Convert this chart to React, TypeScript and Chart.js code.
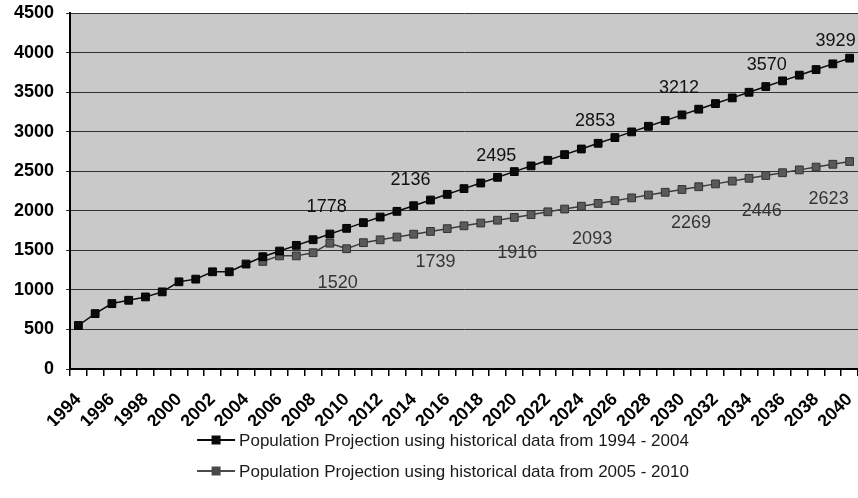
import React, { useEffect, useRef } from "react";
import { Chart, registerables } from "chart.js";

Chart.register(...registerables);

// ---------- data ----------
const years = [
  "1994", "1995", "1996", "1997", "1998", "1999", "2000", "2001", "2002", "2003",
  "2004", "2005", "2006", "2007", "2008", "2009", "2010", "2011", "2012", "2013",
  "2014", "2015", "2016", "2017", "2018", "2019", "2020", "2021", "2022", "2023",
  "2024", "2025", "2026", "2027", "2028", "2029", "2030", "2031", "2032", "2033",
  "2034", "2035", "2036", "2037", "2038", "2039", "2040",
];

const projection1994to2004 = [
  550, 700, 827, 869, 911, 975, 1102, 1136, 1229, 1229,
  1327, 1419, 1491, 1563, 1634, 1706, 1778, 1850, 1921, 1993,
  2064, 2136, 2208, 2280, 2351, 2423, 2495, 2567, 2638, 2710,
  2781, 2853, 2925, 2997, 3068, 3140, 3212, 3284, 3355, 3427,
  3498, 3570, 3642, 3714, 3785, 3857, 3929,
];

const projection2005to2010 = [
  null, null, null, null, null, null, null, null, null, null,
  null, 1360, 1430, 1430, 1470, 1590, 1520, 1597, 1633, 1668,
  1704, 1739, 1774, 1810, 1845, 1881, 1916, 1951, 1987, 2022,
  2058, 2093, 2128, 2163, 2199, 2234, 2269, 2304, 2340, 2375,
  2411, 2446, 2481, 2517, 2552, 2588, 2623,
];

const labelledYears = ["2010", "2015", "2020", "2025", "2030", "2035", "2040"];

const seriesNames = [
  "Population Projection using historical data from 1994 - 2004",
  "Population Projection using historical data from 2005 - 2010",
];

const yTicks = [0, 500, 1000, 1500, 2000, 2500, 3000, 3500, 4000, 4500];

// ---------- styling ----------
const FONT = "'Liberation Sans', Arial, Helvetica, sans-serif";
const COLORS = ["#0a0a0a", "#4a4a4a"];
const LABEL_COLORS = ["#111111", "#353535"];
// label offsets (pixels) relative to each labelled point, per series
const LABEL_OFFSETS = [
  [[-20, -21], [-20, -20], [-18, -16], [-3, -22], [-3, -27], [1, -22], [-14, -17]],
  [[-9, 34], [5, 31], [3, 36], [-6, 36], [9, 34], [-4, 36], [-21, 38]],
];

export default function App() {
  const ref = useRef<HTMLCanvasElement>(null);

  useEffect(() => {
    const canvas = ref.current;
    if (!canvas) return;

    const plotBg = {
      id: "plotBg",
      beforeDraw(chart: any) {
        const { ctx, chartArea: a } = chart;
        ctx.save();
        ctx.fillStyle = "#c9c9c9";
        ctx.fillRect(a.left, a.top, a.right - a.left, a.bottom - a.top);
        ctx.restore();
      },
    };

    const valueLabels = {
      id: "valueLabels",
      afterDatasetsDraw(chart: any) {
        const { ctx } = chart;
        ctx.save();
        ctx.font = `18px ${FONT}`;
        ctx.textAlign = "center";
        ctx.textBaseline = "middle";
        chart.data.datasets.forEach((ds: any, di: number) => {
          const meta = chart.getDatasetMeta(di);
          ctx.fillStyle = LABEL_COLORS[di];
          labelledYears.forEach((yr, li) => {
            const idx = years.indexOf(yr);
            const v = ds.data[idx];
            const el = meta.data[idx];
            if (v == null || !el) return;
            const [dx, dy] = LABEL_OFFSETS[di][li];
            const text = String(v);
            const w = ctx.measureText(text).width;
            let x = el.x + dx;
            if (x + w / 2 > chart.width - 1) x = chart.width - 1 - w / 2;
            ctx.fillText(text, x, el.y + dy);
          });
        });
        ctx.restore();
      },
    };

    const customLegend = {
      id: "customLegend",
      afterDraw(chart: any) {
        const { ctx } = chart;
        ctx.save();
        ctx.font = `17px ${FONT}`;
        ctx.textBaseline = "middle";
        ctx.textAlign = "left";
        const rowsY = [440, 471];
        seriesNames.forEach((name, i) => {
          const tw = ctx.measureText(name).width;
          const symW = 38;
          const total = symW + 4 + tw;
          const x0 = chart.width / 2 - total / 2 + 14;
          const y = rowsY[i];
          ctx.strokeStyle = COLORS[i];
          ctx.lineWidth = 2;
          ctx.beginPath();
          ctx.moveTo(x0, y);
          ctx.lineTo(x0 + symW, y);
          ctx.stroke();
          ctx.fillStyle = COLORS[i];
          ctx.fillRect(x0 + symW / 2 - 4.5, y - 4.5, 9, 9);
          ctx.fillStyle = "#1a1a1a";
          ctx.fillText(name, x0 + symW + 4, y + 1);
        });
        ctx.restore();
      },
    };

    const chart = new Chart(canvas, {
      type: "line",
      data: {
        labels: years,
        datasets: [
          {
            label: seriesNames[0],
            data: projection1994to2004,
            borderColor: COLORS[0],
            backgroundColor: COLORS[0],
            borderWidth: 1.5,
            pointStyle: "rect",
            pointRadius: 5.5,
            pointBorderWidth: 1,
            pointBorderColor: "#000",
            pointBackgroundColor: COLORS[0],
            tension: 0,
          },
          {
            label: seriesNames[1],
            data: projection2005to2010,
            borderColor: "#3c3c3c",
            backgroundColor: COLORS[1],
            borderWidth: 1.5,
            pointStyle: "rect",
            pointRadius: 5.5,
            pointBorderWidth: 1,
            pointBorderColor: "#333",
            pointBackgroundColor: "#5a5a5a",
            tension: 0,
          },
        ],
      },
      options: {
        responsive: false,
        maintainAspectRatio: false,
        animation: false,
        layout: { autoPadding: false, padding: { top: 13, right: 0, left: 0, bottom: 72 } },
        plugins: {
          legend: { display: false },
          tooltip: { enabled: false },
          title: { display: false },
        },
        scales: {
          x: {
            offset: true,
            grid: {
              offset: true,
              drawOnChartArea: false,
              drawTicks: true,
              tickLength: 7,
              color: "#000",
              lineWidth: 1.5,
            },
            border: { color: "#000", width: 2 },
            ticks: {
              autoSkip: false,
              minRotation: 45,
              maxRotation: 45,
              color: "#000",
              padding: 13,
              font: { family: FONT, size: 18, weight: "bold" },
              callback: (_v: any, i: number) => (i % 2 === 0 ? years[i] : ""),
            },
            afterFit: (s: any) => {
              s.height = 57;
              s.paddingLeft = 0;
              s.paddingRight = 0;
            },
          },
          y: {
            min: yTicks[0],
            max: yTicks[yTicks.length - 1],
            afterBuildTicks: (s: any) => {
              s.ticks = yTicks.map((v) => ({ value: v }));
            },
            ticks: {
              color: "#000",
              padding: 12,
              font: { family: FONT, size: 18, weight: "bold" },
              callback: (v: any) => String(v),
            },
            grid: { color: "#333", lineWidth: 1, tickLength: 4 },
            border: { color: "#000", width: 2 },
            afterFit: (s: any) => {
              s.width = 70;
              s.paddingTop = 0;
              s.paddingBottom = 0;
            },
          },
        },
      },
      plugins: [plotBg, valueLabels, customLegend],
    } as any);

    return () => chart.destroy();
  }, []);

  return (
    <div style={{ position: "fixed", left: 0, top: 0, width: 858, height: 498, background: "#fff" }}>
      <canvas ref={ref} width={858} height={498} style={{ display: "block", width: 858, height: 498 }} />
    </div>
  );
}
